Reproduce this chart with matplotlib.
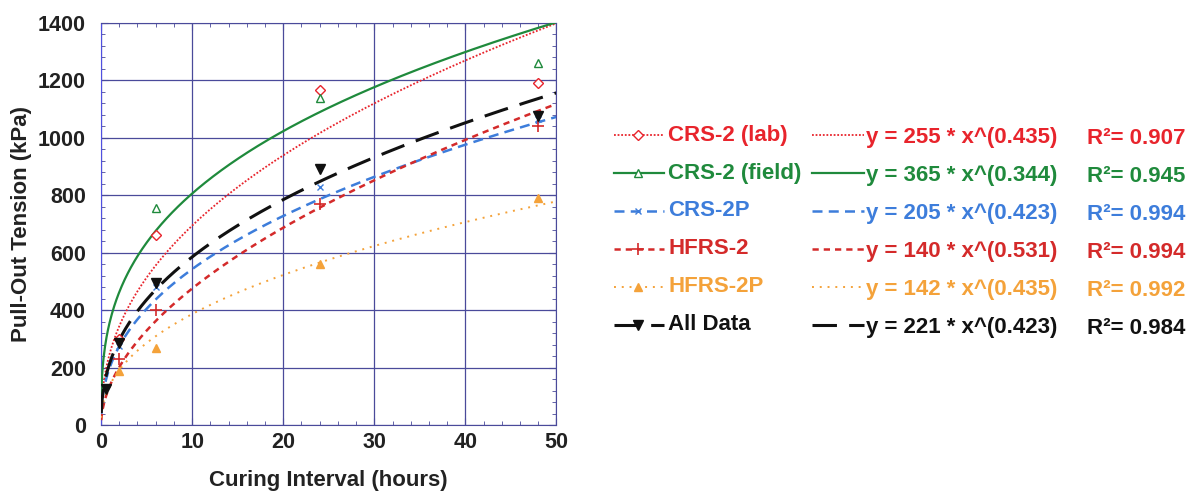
import numpy as np
import matplotlib
matplotlib.use("Agg")
import matplotlib.pyplot as plt
from matplotlib.ticker import MultipleLocator

plt.rcParams['font.family'] = ['Liberation Sans', 'DejaVu Sans']
plt.rcParams['font.weight'] = 'bold'

# series names, colours, measured points, power fits
names = ["CRS-2 (lab)", "CRS-2 (field)", "CRS-2P", "HFRS-2", "HFRS-2P", "All Data"]
colors = ["#e8242c", "#1f8a3c", "#3d7ddb", "#d42a2a", "#f4a23a", "#111111"]

x_lab = [2, 6, 24, 48]
y_lab = [300, 660, 1165, 1190]
x_field = [6, 24, 48]
y_field = [755, 1140, 1260]
x_crs2p = [2, 6, 24, 48]
y_crs2p = [275, 480, 830, 1065]
x_hfrs2 = [2, 6, 24, 48]
y_hfrs2 = [230, 400, 770, 1040]
x_hfrs2p = [2, 6, 24, 48]
y_hfrs2p = [190, 270, 560, 790]
x_all = [0.5, 2, 6, 24, 48]
y_all = [125, 285, 495, 890, 1075]

fit_a = [255, 365, 205, 140, 142, 221]
fit_b = [0.435, 0.344, 0.423, 0.531, 0.435, 0.423]
r2 = ["0.907", "0.945", "0.994", "0.994", "0.992", "0.984"]

xs = [x_lab, x_field, x_crs2p, x_hfrs2, x_hfrs2p, x_all]
ys = [y_lab, y_field, y_crs2p, y_hfrs2, y_hfrs2p, y_all]

markers = [dict(marker="D", ms=5, mfc="white", mec=colors[0], mew=1),
           dict(marker="^", ms=6, mfc="white", mec=colors[1], mew=1),
           dict(marker="x", ms=5, mec=colors[2], mew=1),
           dict(marker="+", ms=8, mec=colors[3], mew=1.2),
           dict(marker="^", ms=6, mfc=colors[4], mec=colors[4]),
           dict(marker="v", ms=7, mfc=colors[5], mec=colors[5])]
styles = [dict(ls=(0, (1, 1)), lw=1.3),
          dict(ls="-", lw=1.6),
          dict(ls=(0, (4, 2.5)), lw=1.8),
          dict(ls=(0, (2.5, 2)), lw=1.8),
          dict(ls=(0, (1, 3)), lw=1.4),
          dict(ls=(0, (8, 4)), lw=2.2)]

fig = plt.figure(figsize=(11.89, 4.95), dpi=100)
ax = fig.add_axes([0.085, 0.141, 0.383, 0.813])

xfit = np.linspace(0.02, 50, 600)
for i in range(6):
    ax.plot(xfit, fit_a[i] * xfit ** fit_b[i], color=colors[i], **styles[i], zorder=3)
    ax.plot(xs[i], ys[i], ls="none", **markers[i], zorder=4)

ax.set_xlim(0, 50)
ax.set_ylim(0, 1400)
ax.xaxis.set_major_locator(MultipleLocator(10))
ax.yaxis.set_major_locator(MultipleLocator(200))
ax.yaxis.set_minor_locator(MultipleLocator(40))
ax.xaxis.set_minor_locator(MultipleLocator(2))
ax.grid(True, which="major", color="#4a4a9a", lw=0.9)
for s in ax.spines.values():
    s.set_color("#4a4a9a")
ax.spines["left"].set_color("#5050e0")
ax.tick_params(which="both", direction="in", right=True, top=True, colors="#4a4a9a",
               labelcolor="#222222", labelsize=15.5)
ax.tick_params(which="major", length=5)
ax.tick_params(which="minor", length=3)
ax.tick_params(axis="y", which="major", pad=11)
ax.tick_params(axis="x", which="major", pad=5)
ax.set_xlabel("Curing Interval (hours)", fontsize=16, fontweight="bold", color="#222222", labelpad=12)
ax.set_ylabel("Pull-Out Tension (kPa)", fontsize=16, fontweight="bold", color="#222222", labelpad=4)

# legend table drawn in pixel space
lg = fig.add_axes([0, 0, 1, 1])
lg.set_xlim(0, 1189)
lg.set_ylim(495, 0)
lg.axis("off")
row_y = [135, 173, 211, 249, 287, 325]
for i in range(6):
    y = row_y[i]
    lg.plot([614, 664], [y, y], color=colors[i], **styles[i])
    lg.plot([638], [y], ls="none", **markers[i])
    lg.plot([812, 864], [y, y], color=colors[i], **styles[i])
    lg.text(668, y, names[i], color=colors[i], fontsize=16, fontweight="bold", va="center")
    lg.text(866, y + 3, f"y = {fit_a[i]} * x^({fit_b[i]:.3f})", color=colors[i],
            fontsize=16, fontweight="bold", va="center")
    lg.text(1087, y + 3, f"R\u00b2= {r2[i]}", color=colors[i], fontsize=16,
            fontweight="bold", va="center")

fig.savefig("out.png", dpi=100)
